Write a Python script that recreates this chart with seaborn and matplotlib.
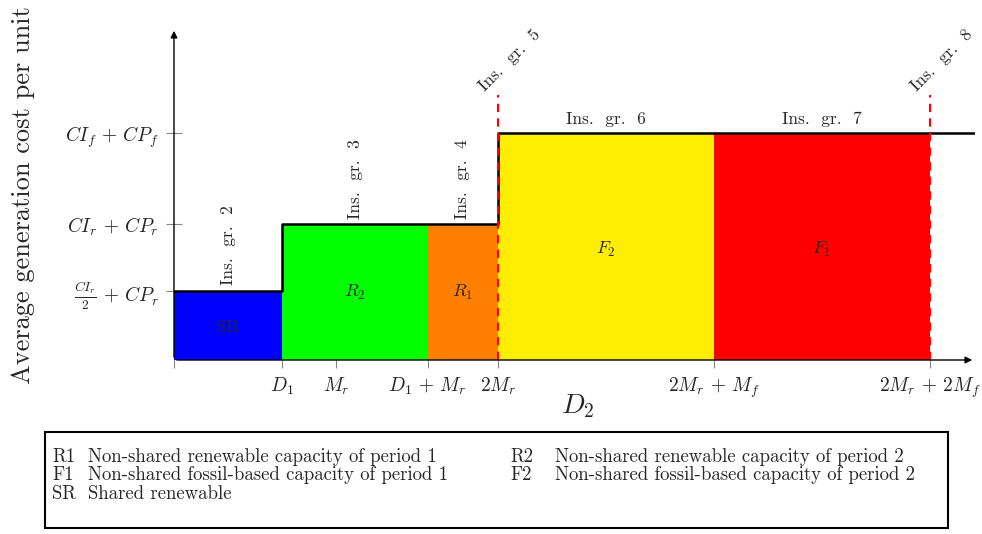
import matplotlib
matplotlib.use("Agg")
import matplotlib.pyplot as plt
import seaborn as sns
import pandas as pd
from matplotlib.patches import Rectangle

# ---- data (schematic positions) ----
x_ticks = [0.0, 1.0, 1.5, 2.35, 3.0, 5.0, 7.0]
x_tick_labels = ["", r"$D_1$", r"$M_r$", r"$D_1\,+\,M_r$", r"$2M_r$", r"$2M_r\,+\,M_f$", r"$2M_r\,+\,2M_f$"]
y_ticks = [1.0, 1.97, 3.29]
y_tick_labels = [r"$\frac{CI_r}{2}\,+\,CP_r$", r"$CI_r\,+\,CP_r$", r"$CI_f\,+\,CP_f$"]

region_names = ["SR", "R2", "R1", "F2", "F1"]
region_left = [0.0, 1.0, 2.35, 3.0, 5.0]
region_right = [1.0, 2.35, 3.0, 5.0, 7.0]
region_height = [1.0, 1.97, 1.97, 3.29, 3.29]
region_colors = ["#0000ff", "#00ff00", "#ff8000", "#ffee00", "#ff0000"]
region_text = [r"$\mathrm{SR}$", r"$R_2$", r"$R_1$", r"$F_2$", r"$F_1$"]
region_text_y = [0.48, 0.98, 0.98, 1.6, 1.6]

step_x = [0.0, 1.0, 3.0, 7.42]
step_y = [1.0, 1.97, 3.29, 3.29]

legend_keys = ["R1", "F1", "SR", "R2", "F2"]
legend_desc = ["Non-shared renewable capacity of period 1",
               "Non-shared fossil-based capacity of period 1",
               "Shared renewable",
               "Non-shared renewable capacity of period 2",
               "Non-shared fossil-based capacity of period 2"]

sns.set_theme(style="white")
plt.rcParams["font.family"] = ["cmr10", "DejaVu Serif"]
plt.rcParams["mathtext.fontset"] = "cm"
plt.rcParams["axes.formatter.use_mathtext"] = True

W, H = 982, 534
fig = plt.figure(figsize=(W / 100, H / 100), dpi=100)
XMAX, YMAX = 7.42, 4.81
ax = fig.add_axes([174 / W, (H - 360) / H, (975 - 174) / W, (360 - 28) / H])
ax.set_xlim(0, XMAX)
ax.set_ylim(0, YMAX)
for s in ax.spines.values():
    s.set_visible(False)

# filled regions
for l, r, h, c in zip(region_left, region_right, region_height, region_colors):
    ax.bar(l, h, width=r - l, align="edge", color=c, edgecolor="none", linewidth=0, zorder=1)
for l, r, t, ty in zip(region_left, region_right, region_text, region_text_y):
    ax.text((l + r) / 2, ty, t, ha="center", va="center", fontsize=13, zorder=5)

# step line
df = pd.DataFrame({"x": step_x, "y": step_y})
sns.lineplot(data=df, x="x", y="y", drawstyle="steps-post", color="black",
             linewidth=1.8, estimator=None, ax=ax, zorder=4)
ax.set_ylabel("")

# red dashed lines
for xv in [3.0, 7.0]:
    ax.plot([xv, xv], [0, 3.84], color="red", linestyle=(0, (4, 3)), linewidth=1.5, zorder=6)

# axes arrows
ax.annotate("", xy=(XMAX, 0), xytext=(0, 0),
            arrowprops=dict(arrowstyle="-|>", color="black", lw=1.0, mutation_scale=10),
            annotation_clip=False, zorder=7)
ax.annotate("", xy=(0, YMAX), xytext=(0, 0),
            arrowprops=dict(arrowstyle="-|>", color="black", lw=1.0, mutation_scale=10),
            annotation_clip=False, zorder=7)

ax.set_xticks(x_ticks)
ax.set_xticklabels(x_tick_labels, fontsize=14)
ax.set_yticks(y_ticks)
ax.set_yticklabels(y_tick_labels, fontsize=14)
ax.tick_params(axis="both", direction="inout", length=12, width=0.8, color="#888888",
               bottom=True, left=True, pad=5)
ax.set_xlabel(r"$D_2$", fontsize=20, labelpad=2)
ax.xaxis.set_label_coords((578 - 174) / (975 - 174), -(392 - 360) / (360 - 28))
fig.text(23 / W, 1 - 195 / H, "Average generation cost per unit", rotation=90,
         ha="center", va="center", fontsize=19)

# installation group labels
fs = 12.5
ax.text(0.5, 1.08, "Ins.  gr.  2", rotation=90, ha="center", va="bottom", fontsize=fs)
ax.text(1.68, 2.05, "Ins.  gr.  3", rotation=90, ha="center", va="bottom", fontsize=fs)
ax.text(2.67, 2.05, "Ins.  gr.  4", rotation=90, ha="center", va="bottom", fontsize=fs)
ax.text(2.90, 3.86, "Ins.  gr.  5", rotation=45, ha="left", va="bottom", fontsize=fs,
        rotation_mode="anchor")
ax.text(4.0, 3.48, "Ins.  gr.  6", ha="center", va="center", fontsize=fs)
ax.text(6.0, 3.48, "Ins.  gr.  7", ha="center", va="center", fontsize=fs)
ax.text(6.90, 3.86, "Ins.  gr.  8", rotation=45, ha="left", va="bottom", fontsize=fs,
        rotation_mode="anchor")

# legend box
fig.patches.append(Rectangle((45 / W, (H - 528) / H), 903 / W, 96 / H,
                             transform=fig.transFigure, fill=False, edgecolor="black",
                             linewidth=1.5))
rows_y = [457, 475, 494]
pos = [(52, 88, rows_y[0]), (52, 88, rows_y[1]), (52, 88, rows_y[2]),
       (510, 555, rows_y[0]), (510, 555, rows_y[1])]
for (kx, dx, ry), k, d in zip(pos, legend_keys, legend_desc):
    fig.text(kx / W, 1 - ry / H, k, ha="left", va="center", fontsize=13.5)
    fig.text(dx / W, 1 - ry / H, d, ha="left", va="center", fontsize=13.5)

fig.savefig("out.png", dpi=100)
